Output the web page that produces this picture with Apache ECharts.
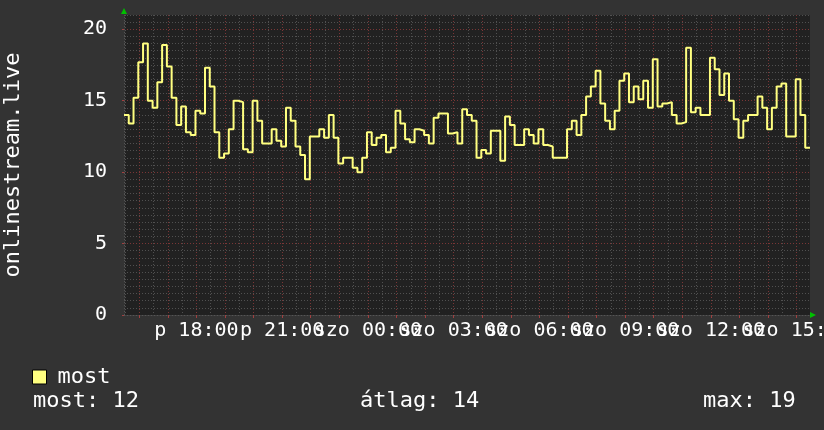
<!DOCTYPE html>
<html>
<head>
<meta charset="utf-8">
<script src="https://cdn.jsdelivr.net/npm/echarts@6/dist/echarts.min.js"></script>
<style>
  html, body { margin: 0; padding: 0; background: #333333; }
  #chart { width: 824px; height: 430px; }
</style>
</head>
<body>
<div id="chart"></div>
<script>
// onlinestream.live - 10 perces értékek, p 15:28 -> szo 15:28
var startHour = 15 + 28 / 60;
var stepMin = 10;
var values = [
  14.0, 13.4, 15.2, 17.7, 19.0, 15.0, 14.5, 16.3, 18.9, 17.4,
  15.2, 13.3, 14.6, 12.8, 12.6, 14.3, 14.1, 17.3, 16.0, 12.8,
  11.0, 11.3, 13.0, 15.0, 14.9, 11.6, 11.4, 15.0, 13.6, 12.0,
  12.0, 13.0, 12.2, 11.8, 14.5, 13.6, 11.8, 11.2, 9.5, 12.5,
  12.5, 13.0, 12.4, 14.0, 12.4, 10.6, 11.0, 11.0, 10.3, 10.0,
  11.0, 12.8, 11.9, 12.4, 12.6, 11.4, 11.7, 14.3, 13.4, 12.3,
  12.1, 13.0, 12.9, 12.6, 12.0, 13.8, 14.1, 14.1, 12.7, 12.8,
  12.0, 14.4, 14.0, 13.6, 11.0, 11.55, 11.3, 12.9, 12.9, 10.8,
  13.9, 13.3, 11.9, 11.9, 13.0, 12.6, 12.0, 13.0, 11.9, 11.8,
  11.0, 11.0, 11.0, 13.0, 13.6, 12.6, 14.0, 15.3, 16.0, 17.1,
  14.8, 13.6, 13.0, 14.3, 16.4, 16.9, 14.9, 16.0, 15.1, 16.4,
  14.5, 17.9, 14.6, 14.8, 14.9, 14.0, 13.4, 13.5, 18.7, 14.2,
  14.5, 14.0, 14.0, 18.0, 17.2, 15.4, 16.9, 15.0, 13.7, 12.4,
  13.6, 14.0, 14.0, 15.3, 14.5, 13.0, 14.5, 16.0, 16.2, 12.5,
  12.5, 16.5, 14.0, 11.7
];
// a feliratok 3 óránként, két tengelyre osztva (különben az ECharts elrejti az egymásra lógókat)
var labelHoursA = [18, 24, 30, 36];
var labelHoursB = [21, 27, 33, 39];
var yLabels = [0, 5, 10, 15, 20];

var endHour = startHour + values.length * stepMin / 60;
var yMax = 21;
var mono = '"DejaVu Sans Mono", monospace';

// rácsvonalak helyei
var hourTicks = [];
for (var h = 16; h <= 39; h++) hourTicks.push(h);
var halfTicks = [];
for (var hh = 15.5; hh < endHour; hh += 0.5) halfTicks.push(hh);
var yMinor = [];
for (var y = 0.5; y <= yMax; y += 0.5) yMinor.push(y);

var seriesData = values.map(function (v, i) {
  return [startHour + i * stepMin / 60, v];
});
seriesData.push([endHour, values[values.length - 1]]);

var last = Math.round(values[values.length - 1]);
var avg = Math.round(values.reduce(function (a, b) { return a + b; }, 0) / values.length);
var max = Math.round(Math.max.apply(null, values));

function fmtHour(v) {
  var day = v < 24 ? 'p ' : 'szo ';
  var h = Math.round(v) % 24;
  return day + (h < 10 ? '0' + h : h) + ':00';
}

var xLabelStyle = {
  formatter: fmtHour, margin: 6,
  showMinLabel: true, showMaxLabel: true, hideOverlap: false,
  color: '#fff', fontSize: 20, fontFamily: mono
};

var chart = echarts.init(document.getElementById('chart'));
chart.setOption({
  backgroundColor: '#333333',
  animation: false,
  grid: {
    left: 124, right: 14, top: 15, bottom: 115,
    outerBoundsMode: 'none', containLabel: false,
    show: true, backgroundColor: '#212121', borderWidth: 0
  },
  legend: {
    data: ['most'],
    left: 32, top: 366, padding: 0,
    icon: 'rect', itemWidth: 14, itemHeight: 14,
    itemStyle: { borderColor: '#000', borderWidth: 1 },
    textStyle: { color: '#fff', fontSize: 22, fontFamily: mono, padding: [0, 0, 0, 6] }
  },
  xAxis: [
    {
      type: 'value', min: startHour, max: endHour, z: 2, position: 'bottom',
      axisLine: { show: true, lineStyle: { color: '#555', type: [1, 2] } },
      axisTick: { show: true, customValues: hourTicks, length: 3, lineStyle: { color: '#a04040' } },
      axisLabel: Object.assign({ customValues: labelHoursA }, xLabelStyle),
      splitLine: { show: true, lineStyle: { color: '#7a3636', type: [1, 2] } }
    },
    {
      type: 'value', min: startHour, max: endHour, z: 1, position: 'bottom',
      axisLine: { show: false },
      axisTick: { show: false, customValues: halfTicks },
      axisLabel: Object.assign({ customValues: labelHoursB }, xLabelStyle),
      splitLine: { show: true, lineStyle: { color: '#505050', type: [1, 2] } }
    }
  ],
  yAxis: [
    {
      type: 'value', min: 0, max: yMax, z: 2,
      name: 'onlinestream.live', nameLocation: 'middle', nameGap: 100, nameRotate: 90,
      nameTextStyle: { color: '#fff', fontSize: 22, fontFamily: mono },
      axisLine: { show: true, lineStyle: { color: '#555', type: [1, 2] } },
      axisTick: { show: true, customValues: yLabels, length: 2, lineStyle: { color: '#a04040' } },
      axisLabel: { customValues: yLabels, margin: 17, color: '#fff', fontSize: 20, fontFamily: mono },
      splitLine: { show: true, lineStyle: { color: '#7a3636', type: [1, 2] } }
    },
    {
      type: 'value', min: 0, max: yMax, z: 1,
      axisLine: { show: false },
      axisTick: { show: false, customValues: yMinor },
      axisLabel: { show: false, customValues: yMinor },
      splitLine: { show: true, lineStyle: { color: '#505050', type: [1, 2] } }
    }
  ],
  series: [{
    name: 'most',
    type: 'line',
    xAxisIndex: 0, yAxisIndex: 0,
    step: 'end',
    showSymbol: false,
    z: 5,
    data: seriesData,
    itemStyle: { color: '#ffff80' },
    lineStyle: { color: '#ffff80', width: 2 }
  }],
  graphic: [
    { type: 'polygon', shape: { points: [[121, 14], [127, 14], [124, 8]] }, style: { fill: '#00c000' } },
    { type: 'polygon', shape: { points: [[810, 312], [810, 318], [816, 315]] }, style: { fill: '#00c000' } },
    { type: 'text', left: 33, top: 390, style: { text: 'most: ' + last, fill: '#fff', font: '22px ' + mono } },
    { type: 'text', left: 360, top: 390, style: { text: 'átlag: ' + avg, fill: '#fff', font: '22px ' + mono } },
    { type: 'text', left: 703, top: 390, style: { text: 'max: ' + max, fill: '#fff', font: '22px ' + mono } }
  ]
});
</script>
</body>
</html>
